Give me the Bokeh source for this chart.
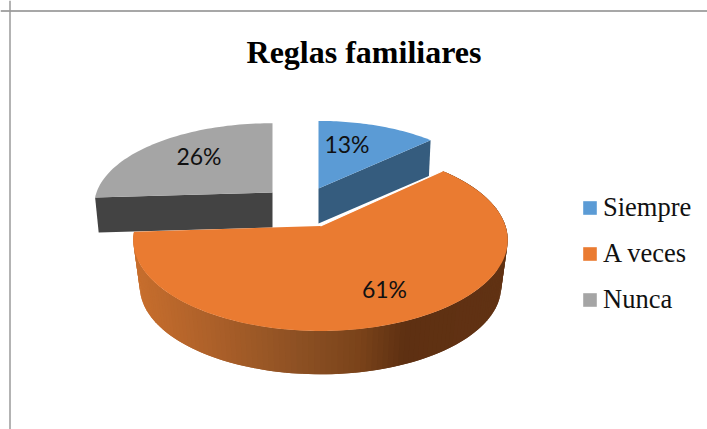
import math
from bokeh.plotting import figure
from bokeh.models import Range1d, Legend, LegendItem, Span
from bokeh.core.properties import value
from bokeh.embed import file_html
from bokeh.resources import INLINE

categories = ["Siempre", "A veces", "Nunca"]
percentages = [13, 61, 26]
title_text = "Reglas familiares"

top_colors = ["#5B9BD5", "#EA7B31", "#A5A5A5"]
cut_colors = ["#355C7E", "#613213", "#434343"]

# projection of each exploded slice: centre x, centre y, semi-x, semi-y, perspective, depth
proj = {
    "Siempre": (318, 188, 170, 78, 0.154, 35),
    "A veces": (320, 225.5, 185, 88.8, 0.154, 47),
    "Nunca": (272, 192, 176, 80, 0.154, 35),
}

W, H = 707, 429
p = figure(width=W, height=H, output_backend="svg", toolbar_location=None,
           x_range=Range1d(0, W), y_range=Range1d(H, 0),
           min_border=0, x_axis_type="linear")
p.axis.visible = False
p.grid.visible = False
p.outline_line_color = None
p.background_fill_color = "white"


def project(cat, theta_deg, shrink=1.0, drop=0.0):
    cx, cy, a, b, e, _ = proj[cat]
    t = math.radians(theta_deg)
    u, v = math.sin(t), math.cos(t)
    w = 1 + e * v
    return cx + shrink * a * u / w, cy + drop - shrink * b * v / w


def arc(cat, t0, t1, n, shrink=1.0, drop=0.0):
    return [project(cat, t0 + (t1 - t0) * i / n, shrink, drop) for i in range(n + 1)]


def lerp_color(stops, x):
    for (x0, c0), (x1, c1) in zip(stops, stops[1:]):
        if x0 <= x <= x1:
            f = (x - x0) / (x1 - x0)
            ch = [round(int(c0[i:i+2], 16) * (1 - f) + int(c1[i:i+2], 16) * f) for i in (1, 3, 5)]
            return "#%02x%02x%02x" % tuple(ch)
    return stops[0][1] if x < stops[0][0] else stops[-1][1]


side_stops = [(134, "#C76E2D"), (200, "#B0622A"), (300, "#8C5023"), (360, "#7A431A"),
              (405, "#5E3012"), (510, "#613213")]

# slice boundaries, clockwise from the top
angles = {}
acc = 0.0
for c, v in zip(categories, percentages):
    angles[c] = (acc * 3.6, (acc + v) * 3.6)
    acc += v

renderers = {}

# Nunca: cut face then top
t0, t1 = angles["Nunca"]
d = proj["Nunca"][5]
cx, cy = proj["Nunca"][:2]
L = project("Nunca", t0)
Lb = project("Nunca", t0, 0.98, d)
p.patch([cx, L[0], Lb[0], cx], [cy, L[1], Lb[1], cy + d], fill_color=cut_colors[2], line_color=None)
pts = [(cx, cy)] + arc("Nunca", t0, t1, 60)
renderers["Nunca"] = p.patch([q[0] for q in pts], [q[1] for q in pts], fill_color=top_colors[2], line_color=None)

# Siempre: cut face then top
t0, t1 = angles["Siempre"]
d = proj["Siempre"][5]
cx, cy = proj["Siempre"][:2]
R = project("Siempre", t1)
Rb = project("Siempre", t1, 0.985, d)
p.patch([cx, R[0], Rb[0], cx], [cy, R[1], Rb[1], cy + d], fill_color=cut_colors[0], line_color=None)
pts = [(cx, cy)] + arc("Siempre", t0, t1, 40)
renderers["Siempre"] = p.patch([q[0] for q in pts], [q[1] for q in pts], fill_color=top_colors[0], line_color=None)

# A veces: shaded rim then top
t0, t1 = angles["A veces"]
d = proj["A veces"][5]
cx, cy = proj["A veces"][:2]
N = 140
upper = arc("A veces", t0, t1, N)
lower = arc("A veces", t0, t1, N, 0.965, d)
for i in range(N):
    j = min(i + 2, N)  # each strip overlaps the next so no seams show
    col = lerp_color(side_stops, (upper[i][0] + upper[i + 1][0]) / 2)
    p.patch([upper[i][0], upper[j][0], lower[j][0], lower[i][0]],
            [upper[i][1], upper[j][1], lower[j][1], lower[i][1]],
            fill_color=col, line_color=None)
pts = [(cx, cy)] + arc("A veces", t0, t1, 160)
renderers["A veces"] = p.patch([q[0] for q in pts], [q[1] for q in pts], fill_color=top_colors[1],
                               line_color=None)
S = project("A veces", t0)
p.line([cx, S[0]], [cy, S[1]], line_color="white", line_width=1.2)

# data labels
label_pos = {"Siempre": (346.5, 143.5), "A veces": (384, 288), "Nunca": (198.5, 155.5)}
for c, v in zip(categories, percentages):
    x, y = label_pos[c]
    p.text([x], [y], text=[f"{v}%"], text_font=value("Lato"), text_font_size="23px",
           text_align="center", text_baseline="middle", text_color="#111111")

p.text([363.5], [51.5], text=[title_text], text_font=value("Liberation Serif"), text_font_style="bold",
       text_font_size="32px", text_align="center", text_baseline="middle", text_color="black")

# chart frame
p.add_layout(Span(location=10.5, dimension="width", line_color="#8A8A8A", line_width=1.5))
p.add_layout(Span(location=9.5, dimension="height", line_color="#9A9A9A", line_width=1.5))

legend = Legend(items=[LegendItem(label=c, renderers=[renderers[c]]) for c in categories],
                location=(581, 114), orientation="vertical",
                label_text_font="Liberation Serif", label_text_font_size="26.5px",
                label_text_color="#111111",
                glyph_width=17, glyph_height=17, spacing=15, padding=0, margin=0,
                label_standoff=5, border_line_color=None, background_fill_alpha=0)
p.add_layout(legend)

open("out.html", "w").write(file_html(p, INLINE))
